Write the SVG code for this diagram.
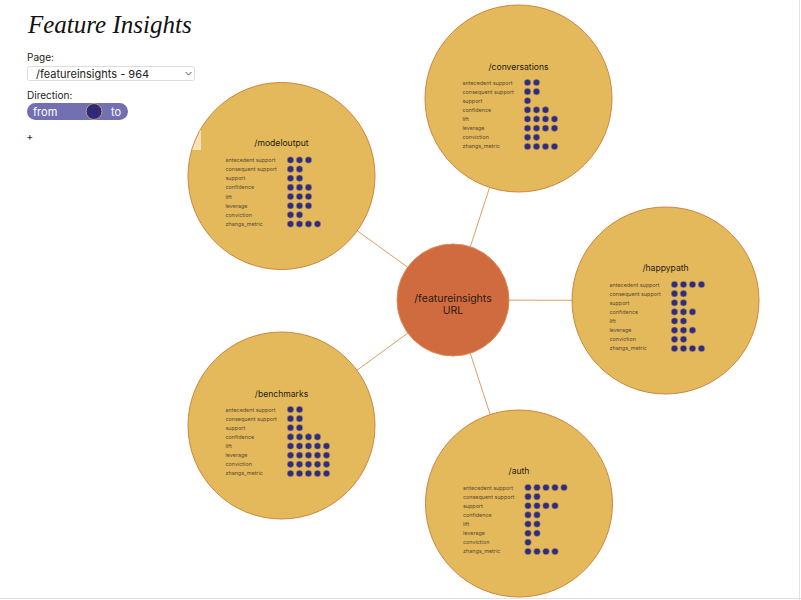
<svg xmlns="http://www.w3.org/2000/svg" xmlns:xlink="http://www.w3.org/1999/xlink" width="801" height="600" viewBox="0 0 801 600">
<style>
.bg{fill:#ffffff}
.sat{fill:#E3B95B;stroke:#D0853F;stroke-width:1}
.hub{fill:#D06B40;stroke:#DC8A55;stroke-width:1}
.conn line{stroke:#D9A060;stroke-width:1}
.ttl{font-family:Inter,"Liberation Sans",sans-serif;font-size:8.6px;fill:#1e1a14;text-anchor:middle}
.lbl{font-family:Inter,"Liberation Sans",sans-serif;font-size:5.4px;fill:#5a4a34}
.dot{fill:#2F2B7E;stroke:#C9A560;stroke-width:0.5}
.hubt{font-family:Inter,"Liberation Sans",sans-serif;font-size:10.5px;fill:#2a1a12;text-anchor:middle}
.ui{font-family:Inter,"Liberation Sans",sans-serif;fill:#222}
</style>
<defs>
<circle id="d" class="dot" r="3.3"/>
<clipPath id="mclip"><circle cx="281.5" cy="176" r="93"/></clipPath>
</defs>
<rect class="bg" x="0" y="0" width="801" height="600"/>
<line x1="799.5" y1="0" x2="799.5" y2="600" stroke="#e2e2e2" stroke-width="1"/>
<line x1="0" y1="598.5" x2="801" y2="598.5" stroke="#e2e2e2" stroke-width="1"/>

<g id="controls">
<text x="28" y="33" font-family="'Liberation Serif',serif" font-style="italic" font-size="25" fill="#111">Feature Insights</text>
<text class="ui" x="27" y="61" font-size="10">Page:</text>
<rect x="27.5" y="66.5" width="167" height="14" rx="2" fill="#fff" stroke="#dcdcdc"/>
<text class="ui" x="36" y="77.5" font-size="11" fill="#111">/featureinsights - 964</text>
<path d="M185.5 72 L188.5 75 L191.5 72" fill="none" stroke="#444" stroke-width="0.9"/>
<text class="ui" x="27" y="99" font-size="10">Direction:</text>
<rect x="27" y="103" width="101" height="17" rx="8.5" fill="#7270B2"/>
<text x="33" y="115.5" font-family="Inter,'Liberation Sans',sans-serif" font-size="11" fill="#fff">from</text>
<text x="111" y="115.5" font-family="Inter,'Liberation Sans',sans-serif" font-size="11" fill="#fff">to</text>
<circle cx="94" cy="111.5" r="8" fill="#2F2B7A" stroke="#C9A46A" stroke-width="1"/>
<text class="ui" x="26.5" y="140" font-size="10">+</text>
</g>

<g id="connectors" class="conn">
<line x1="453" y1="300" x2="281.5" y2="176"/>
<line x1="453" y1="300" x2="518.5" y2="98.5"/>
<line x1="453" y1="300" x2="665.5" y2="300.5"/>
<line x1="453" y1="300" x2="281.5" y2="425.5"/>
<line x1="453" y1="300" x2="519" y2="503.5"/>
</g>

<g id="node-modeloutput" transform="translate(281.5,176)">
<circle class="sat" r="93.5"/>
<text class="ttl" x="0" y="-30">/modeloutput</text>
<text class="lbl" x="-56" y="-14">antecedent support</text>
<text class="lbl" x="-56" y="-4.86">consequent support</text>
<text class="lbl" x="-56" y="4.28">support</text>
<text class="lbl" x="-56" y="13.42">confidence</text>
<text class="lbl" x="-56" y="22.56">lift</text>
<text class="lbl" x="-56" y="31.7">leverage</text>
<text class="lbl" x="-56" y="40.84">conviction</text>
<text class="lbl" x="-56" y="49.98">zhangs_metric</text>
<use href="#d" x="9" y="-16"/><use href="#d" x="18" y="-16"/><use href="#d" x="27" y="-16"/>
<use href="#d" x="9" y="-6.86"/><use href="#d" x="18" y="-6.86"/>
<use href="#d" x="9" y="2.28"/><use href="#d" x="18" y="2.28"/>
<use href="#d" x="9" y="11.42"/><use href="#d" x="18" y="11.42"/><use href="#d" x="27" y="11.42"/>
<use href="#d" x="9" y="20.56"/><use href="#d" x="18" y="20.56"/><use href="#d" x="27" y="20.56"/>
<use href="#d" x="9" y="29.7"/><use href="#d" x="18" y="29.7"/><use href="#d" x="27" y="29.7"/>
<use href="#d" x="9" y="38.84"/><use href="#d" x="18" y="38.84"/>
<use href="#d" x="9" y="47.98"/><use href="#d" x="18" y="47.98"/><use href="#d" x="27" y="47.98"/><use href="#d" x="36" y="47.98"/>
</g>
<rect x="185" y="127" width="16" height="23" fill="#F4E2B8" clip-path="url(#mclip)"/>

<g id="node-conversations" transform="translate(518.5,98.5)">
<circle class="sat" r="93.5"/>
<text class="ttl" x="0" y="-28.5">/conversations</text>
<text class="lbl" x="-56" y="-14">antecedent support</text>
<text class="lbl" x="-56" y="-4.86">consequent support</text>
<text class="lbl" x="-56" y="4.28">support</text>
<text class="lbl" x="-56" y="13.42">confidence</text>
<text class="lbl" x="-56" y="22.56">lift</text>
<text class="lbl" x="-56" y="31.7">leverage</text>
<text class="lbl" x="-56" y="40.84">conviction</text>
<text class="lbl" x="-56" y="49.98">zhangs_metric</text>
<use href="#d" x="9" y="-16"/><use href="#d" x="18" y="-16"/>
<use href="#d" x="9" y="-6.86"/><use href="#d" x="18" y="-6.86"/>
<use href="#d" x="9" y="2.28"/>
<use href="#d" x="9" y="11.42"/><use href="#d" x="18" y="11.42"/><use href="#d" x="27" y="11.42"/>
<use href="#d" x="9" y="20.56"/><use href="#d" x="18" y="20.56"/><use href="#d" x="27" y="20.56"/><use href="#d" x="36" y="20.56"/>
<use href="#d" x="9" y="29.7"/><use href="#d" x="18" y="29.7"/><use href="#d" x="27" y="29.7"/><use href="#d" x="36" y="29.7"/>
<use href="#d" x="9" y="38.84"/><use href="#d" x="18" y="38.84"/>
<use href="#d" x="9" y="47.98"/><use href="#d" x="18" y="47.98"/><use href="#d" x="27" y="47.98"/><use href="#d" x="36" y="47.98"/>
</g>

<g id="node-happypath" transform="translate(665.5,300.5)">
<circle class="sat" r="93.5"/>
<text class="ttl" x="0" y="-30">/happypath</text>
<text class="lbl" x="-56" y="-14">antecedent support</text>
<text class="lbl" x="-56" y="-4.86">consequent support</text>
<text class="lbl" x="-56" y="4.28">support</text>
<text class="lbl" x="-56" y="13.42">confidence</text>
<text class="lbl" x="-56" y="22.56">lift</text>
<text class="lbl" x="-56" y="31.7">leverage</text>
<text class="lbl" x="-56" y="40.84">conviction</text>
<text class="lbl" x="-56" y="49.98">zhangs_metric</text>
<use href="#d" x="9" y="-16"/><use href="#d" x="18" y="-16"/><use href="#d" x="27" y="-16"/><use href="#d" x="36" y="-16"/>
<use href="#d" x="9" y="-6.86"/><use href="#d" x="18" y="-6.86"/>
<use href="#d" x="9" y="2.28"/><use href="#d" x="18" y="2.28"/>
<use href="#d" x="9" y="11.42"/><use href="#d" x="18" y="11.42"/><use href="#d" x="27" y="11.42"/>
<use href="#d" x="9" y="20.56"/><use href="#d" x="18" y="20.56"/>
<use href="#d" x="9" y="29.7"/><use href="#d" x="18" y="29.7"/><use href="#d" x="27" y="29.7"/>
<use href="#d" x="9" y="38.84"/><use href="#d" x="18" y="38.84"/>
<use href="#d" x="9" y="47.98"/><use href="#d" x="18" y="47.98"/><use href="#d" x="27" y="47.98"/><use href="#d" x="36" y="47.98"/>
</g>

<g id="node-benchmarks" transform="translate(281.5,425.5)">
<circle class="sat" r="93.5"/>
<text class="ttl" x="0" y="-29">/benchmarks</text>
<text class="lbl" x="-56" y="-14">antecedent support</text>
<text class="lbl" x="-56" y="-4.86">consequent support</text>
<text class="lbl" x="-56" y="4.28">support</text>
<text class="lbl" x="-56" y="13.42">confidence</text>
<text class="lbl" x="-56" y="22.56">lift</text>
<text class="lbl" x="-56" y="31.7">leverage</text>
<text class="lbl" x="-56" y="40.84">conviction</text>
<text class="lbl" x="-56" y="49.98">zhangs_metric</text>
<use href="#d" x="9" y="-16"/><use href="#d" x="18" y="-16"/>
<use href="#d" x="9" y="-6.86"/><use href="#d" x="18" y="-6.86"/>
<use href="#d" x="9" y="2.28"/><use href="#d" x="18" y="2.28"/>
<use href="#d" x="9" y="11.42"/><use href="#d" x="18" y="11.42"/><use href="#d" x="27" y="11.42"/><use href="#d" x="36" y="11.42"/>
<use href="#d" x="9" y="20.56"/><use href="#d" x="18" y="20.56"/><use href="#d" x="27" y="20.56"/><use href="#d" x="36" y="20.56"/><use href="#d" x="45" y="20.56"/>
<use href="#d" x="9" y="29.7"/><use href="#d" x="18" y="29.7"/><use href="#d" x="27" y="29.7"/><use href="#d" x="36" y="29.7"/><use href="#d" x="45" y="29.7"/>
<use href="#d" x="9" y="38.84"/><use href="#d" x="18" y="38.84"/><use href="#d" x="27" y="38.84"/><use href="#d" x="36" y="38.84"/><use href="#d" x="45" y="38.84"/>
<use href="#d" x="9" y="47.98"/><use href="#d" x="18" y="47.98"/><use href="#d" x="27" y="47.98"/><use href="#d" x="36" y="47.98"/><use href="#d" x="45" y="47.98"/>
</g>

<g id="node-auth" transform="translate(519,503.5)">
<circle class="sat" r="93.5"/>
<text class="ttl" x="0" y="-29.5">/auth</text>
<text class="lbl" x="-56" y="-14">antecedent support</text>
<text class="lbl" x="-56" y="-4.86">consequent support</text>
<text class="lbl" x="-56" y="4.28">support</text>
<text class="lbl" x="-56" y="13.42">confidence</text>
<text class="lbl" x="-56" y="22.56">lift</text>
<text class="lbl" x="-56" y="31.7">leverage</text>
<text class="lbl" x="-56" y="40.84">conviction</text>
<text class="lbl" x="-56" y="49.98">zhangs_metric</text>
<use href="#d" x="9" y="-16"/><use href="#d" x="18" y="-16"/><use href="#d" x="27" y="-16"/><use href="#d" x="36" y="-16"/><use href="#d" x="45" y="-16"/>
<use href="#d" x="9" y="-6.86"/><use href="#d" x="18" y="-6.86"/>
<use href="#d" x="9" y="2.28"/><use href="#d" x="18" y="2.28"/><use href="#d" x="27" y="2.28"/><use href="#d" x="36" y="2.28"/>
<use href="#d" x="9" y="11.42"/><use href="#d" x="18" y="11.42"/>
<use href="#d" x="9" y="20.56"/><use href="#d" x="18" y="20.56"/>
<use href="#d" x="9" y="29.7"/><use href="#d" x="18" y="29.7"/>
<use href="#d" x="9" y="38.84"/>
<use href="#d" x="9" y="47.98"/><use href="#d" x="18" y="47.98"/><use href="#d" x="27" y="47.98"/><use href="#d" x="36" y="47.98"/>
</g>

<g id="node-hub" transform="translate(453,300)">
<circle class="hub" r="56"/>
<text class="hubt" x="0" y="2">/featureinsights</text>
<text class="hubt" x="0" y="14">URL</text>
</g>
</svg>
